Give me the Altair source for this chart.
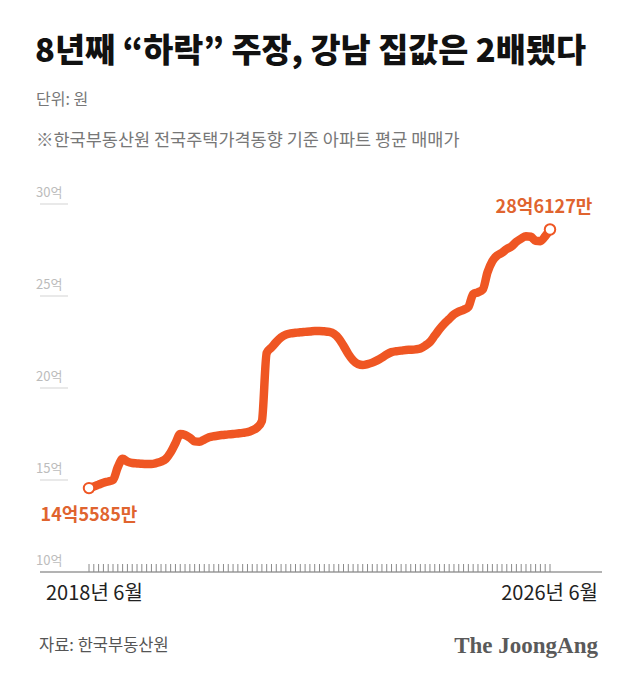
import altair as alt
import pandas as pd

# Monthly average apartment sale price (억원), 2018-06 .. 2026-06
months = pd.date_range("2018-06-01", periods=97, freq="MS").strftime("%Y-%m").tolist()
price = [
    14.5585, 14.65, 14.75, 14.85, 14.92, 15.00, 15.70, 16.15, 16.00, 15.92,
    15.90, 15.88, 15.87, 15.87, 15.92, 16.00, 16.15, 16.50, 17.00, 17.50,
    17.45, 17.30, 17.10, 17.08, 17.20, 17.32, 17.38, 17.42, 17.45, 17.48,
    17.50, 17.53, 17.56, 17.60, 17.70, 17.85, 18.20, 21.90, 22.20, 22.50,
    22.75, 22.90, 22.97, 23.00, 23.03, 23.05, 23.07, 23.10, 23.10, 23.08,
    23.05, 22.95, 22.70, 22.30, 21.85, 21.50, 21.30, 21.25, 21.30, 21.38,
    21.50, 21.65, 21.82, 21.95, 22.00, 22.03, 22.07, 22.08, 22.10, 22.15,
    22.30, 22.50, 22.85, 23.20, 23.50, 23.75, 24.00, 24.15, 24.25, 24.40,
    25.10, 25.20, 25.35, 26.30, 26.90, 27.20, 27.35, 27.55, 27.70, 27.95,
    28.12, 28.25, 28.22, 28.00, 27.98, 28.25, 28.6127,
]
y_ticks = [10, 15, 20, 25, 30]
x_labels = ["2018년 6월", "2026년 6월"]

LINE = "#ef5623"
LABEL = "#e0642f"
FONT = "Noto Sans CJK KR"


def won_label(v):
    eok = int(v)
    man = round((v - eok) * 10000)
    return f"{eok}억{man}만"


df = pd.DataFrame({"i": range(len(months)), "month": months, "price": price})
ends = df.iloc[[0, -1]].copy()
ends["label"] = [won_label(v) for v in ends["price"]]
tick_df = pd.DataFrame({"v": y_ticks, "label": [f"{v}억" for v in y_ticks]})

xs = alt.Scale(domain=[0, len(months) - 1], range=[89, 550])
ys = alt.Scale(domain=[10, 30], range=[572, 204])
X = alt.X("i:Q", scale=xs, axis=None)
Y = alt.Y("price:Q", scale=ys, axis=None)
YV = alt.Y("v:Q", scale=ys, axis=None)


def note(text, x, y, size, color, weight="normal", align="left", font=FONT):
    return alt.Chart(alt.Data(values=[{}])).mark_text(
        text=text, align=align, baseline="middle", font=font,
        fontSize=size, fontWeight=weight, color=color,
    ).encode(x=alt.value(x), y=alt.value(y))


# y-axis labels with short underlines, and the 10억 baseline
grid = alt.Chart(tick_df[tick_df.v > 10]).mark_rule(color="#e2e2e2", strokeWidth=1.5).encode(
    x=alt.value(40), x2=alt.value(68), y=YV)
ylab = alt.Chart(tick_df).mark_text(
    align="left", baseline="bottom", dy=-4, font=FONT, fontSize=13, color="#bcbcbc"
).encode(x=alt.value(36), y=YV, text="label:N")
base = alt.Chart(tick_df[tick_df.v == 10]).mark_rule(color="#9a9a9a", strokeWidth=1.5).encode(
    x=alt.value(40), x2=alt.value(602), y=YV)

# one small tick per month
ticks = alt.Chart(df).mark_rule(color="#8a8a8a", strokeWidth=1).encode(
    x=X, y=alt.value(564), y2=alt.value(572))

line = alt.Chart(df).mark_line(
    color=LINE, strokeWidth=8.5, strokeCap="round", strokeJoin="round", interpolate="monotone"
).encode(x=X, y=Y)

dots = alt.Chart(ends).mark_point(
    shape="circle", filled=True, fill="white", stroke=LINE, strokeWidth=2, size=110, opacity=1
).encode(x=X, y=Y)

start_lab = alt.Chart(ends.iloc[[0]]).mark_text(
    align="center", baseline="middle", dy=28, font=FONT, fontSize=18, fontWeight="bold",
    color=LABEL,
).encode(x=X, y=Y, text="label:N")
end_lab = alt.Chart(ends.iloc[[1]]).mark_text(
    align="center", baseline="middle", dy=-22, dx=-6, font=FONT, fontSize=18, fontWeight="bold",
    color=LABEL,
).encode(x=X, y=Y, text="label:N")

texts = [
    note("8년째 “하락” 주장, 강남 집값은 2배됐다", 35, 52, 32.7, "#111111", weight=900),
    note("단위: 원", 36, 100, 16, "#777777"),
    note("※한국부동산원 전국주택가격동향 기준 아파트 평균 매매가", 36, 141, 17.5, "#777777"),
    note(x_labels[0], 46, 594, 20, "#222222"),
    note(x_labels[1], 598, 594, 20, "#222222", align="right"),
    note("자료: 한국부동산원", 39, 646, 16.5, "#555555"),
    note("The JoongAng", 598, 646, 23, "#5a5a5a", weight="bold", align="right",
         font="Liberation Serif"),
]

chart = alt.layer(grid, ylab, base, ticks, line, dots, start_lab, end_lab, *texts).properties(
    width=640, height=682, padding=0, autosize="none", background="white"
).configure_view(stroke=None)

chart.save("out.html", embed_options={"renderer": "svg", "actions": False})
